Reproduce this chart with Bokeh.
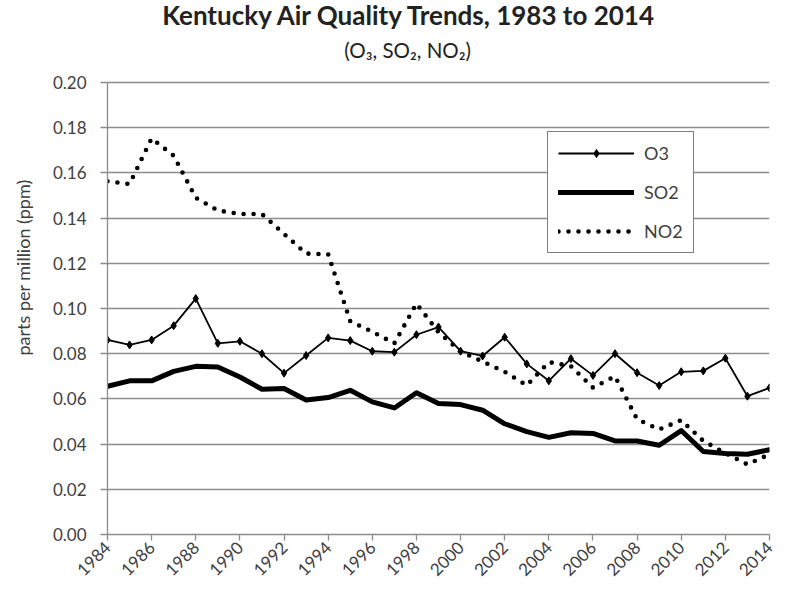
from bokeh.plotting import figure
from bokeh.models import Range1d, FixedTicker, NumeralTickFormatter, Legend, LegendItem
from bokeh.core.properties import value
from bokeh.embed import file_html
from bokeh.resources import INLINE
from math import pi

years = list(range(1984, 2015))
o3 = [0.0861, 0.0839, 0.0861, 0.0924, 0.1044, 0.0846, 0.0855, 0.0800, 0.0714, 0.0792,
      0.0870, 0.0858, 0.0811, 0.0807, 0.0884, 0.0918, 0.0811, 0.0790, 0.0873, 0.0755,
      0.0680, 0.0778, 0.0704, 0.0800, 0.0716, 0.0659, 0.0720, 0.0724, 0.0780, 0.0612, 0.0649]
so2 = [0.0656, 0.0680, 0.0680, 0.0722, 0.0744, 0.0741, 0.0697, 0.0643, 0.0646, 0.0595,
       0.0606, 0.0638, 0.0587, 0.0560, 0.0627, 0.0580, 0.0575, 0.0550, 0.0490, 0.0455,
       0.0430, 0.0450, 0.0447, 0.0414, 0.0414, 0.0395, 0.0460, 0.0367, 0.0358, 0.0355, 0.0375]
no2 = [0.1563, 0.1551, 0.1753, 0.1676, 0.1490, 0.1434, 0.1418, 0.1418, 0.1330, 0.1243,
       0.1240, 0.0944, 0.0897, 0.0846, 0.1022, 0.0895, 0.0810, 0.0765, 0.0720, 0.0660,
       0.0763, 0.0745, 0.0650, 0.0700, 0.0510, 0.0465, 0.0506, 0.0414, 0.0360, 0.0310, 0.0355]
x_ticks = list(range(1984, 2015, 2))
y_ticks = [0.00, 0.02, 0.04, 0.06, 0.08, 0.10, 0.12, 0.14, 0.16, 0.18, 0.20]

title_text = "Kentucky Air Quality Trends, 1983 to 2014"
subtitle_text = "(O\u2083, SO\u2082, NO\u2082)"
y_label = "parts per million (ppm)"

FONT = "Lato"
GRID = "#8c8c8c"
TXT = "#404040"

# the frame reaches up to the top so that the two title lines can sit above the 0.20 line
Y_TOP = 0.2363
TITLE_X = 1997.7
SUB_X = 1997.6
TITLE_Y = 0.2301
SUB_Y = 0.2145

p = figure(width=777, height=589, output_backend="svg", toolbar_location=None,
           title=None, x_range=Range1d(1984, 2014), y_range=Range1d(0, Y_TOP),
           min_border_left=107, min_border_right=8, min_border_top=0, min_border_bottom=55)
p.outline_line_color = None
p.background_fill_color = "white"
p.border_fill_color = "white"

# axes
p.xaxis.ticker = FixedTicker(ticks=x_ticks)
p.yaxis.ticker = FixedTicker(ticks=y_ticks)
p.yaxis.bounds = (0, 0.20)
p.yaxis.formatter = NumeralTickFormatter(format="0.00")
p.xaxis.major_label_orientation = pi / 4
for ax in (p.xaxis, p.yaxis):
    ax.axis_line_color = GRID
    ax.axis_line_width = 1.3
    ax.major_tick_line_color = GRID
    ax.major_tick_line_width = 1.3
    ax.major_tick_in = 0
    ax.minor_tick_line_color = None
    ax.major_label_text_font = FONT
    ax.major_label_text_font_size = "17px"
    ax.major_label_text_color = TXT
p.yaxis.major_tick_out = 7
p.yaxis.major_label_standoff = 14
p.xaxis.major_tick_out = 6
p.xaxis.major_label_standoff = 4
p.yaxis.axis_label = y_label
p.yaxis.axis_label_text_font = FONT
p.yaxis.axis_label_text_font_size = "18px"
p.yaxis.axis_label_text_font_style = "normal"
p.yaxis.axis_label_text_color = TXT
p.yaxis.axis_label_standoff = 16

p.xgrid.grid_line_color = None
p.ygrid.grid_line_color = GRID
p.ygrid.grid_line_width = 1.3
p.ygrid.ticker = FixedTicker(ticks=y_ticks)

# series
r_no2 = p.line(years, no2, line_color="black", line_width=4.6, line_dash="0 10",
               line_cap="round", line_join="round")
r_so2 = p.line(years, so2, line_color="black", line_width=5, line_join="round", line_cap="round")
r_o3 = p.line(years, o3, line_color="black", line_width=1.8)
r_o3m = p.scatter(years, o3, marker="diamond", size=8, fill_color="black", line_color="black")

legend = Legend(items=[
    LegendItem(label="O3", renderers=[r_o3, r_o3m]),
    LegendItem(label="SO2", renderers=[r_so2]),
    LegendItem(label="NO2", renderers=[r_no2]),
], location=(440, 281))
legend.label_text_font = FONT
legend.label_text_font_size = "18px"
legend.label_text_color = TXT
legend.border_line_color = "black"
legend.border_line_width = 1.4
legend.background_fill_color = "white"
legend.background_fill_alpha = 1
legend.padding = 10
legend.spacing = 17
legend.margin = 0
legend.glyph_width = 76
legend.glyph_height = 20
legend.label_height = 20
legend.label_standoff = 10
p.add_layout(legend, "center")

# titles
p.text(x=[TITLE_X], y=[TITLE_Y], text=[title_text], text_font=value(FONT),
       text_font_style="bold", text_font_size="26px", text_color="#222222",
       text_align="center", text_baseline="middle")
p.text(x=[SUB_X], y=[SUB_Y], text=[subtitle_text], text_font=value(FONT),
       text_font_size="20.5px", text_color="#222222",
       text_align="center", text_baseline="middle")

open("out.html", "w").write(file_html(p, INLINE))
